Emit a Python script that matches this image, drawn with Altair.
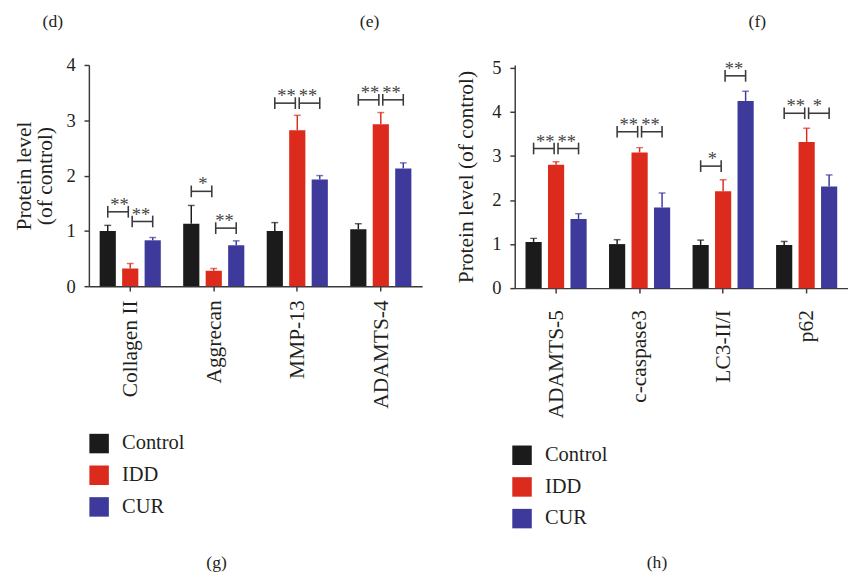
import altair as alt
import pandas as pd

FONT = "Liberation Serif"
INK = "#231f20"
LINE = "#3a3a3a"

groups = ["Control", "IDD", "CUR"]
group_colors = ["#1b1b1b", "#dc2b1c", "#3d3a9c"]

# ---- panel (g) ----
left_categories = ["Collagen II", "Aggrecan", "MMP-13", "ADAMTS-4"]
left_control = [1.00, 1.13, 1.00, 1.03]
left_idd = [0.32, 0.28, 2.82, 2.93]
left_cur = [0.83, 0.74, 1.93, 2.13]
left_control_err = [0.10, 0.33, 0.15, 0.10]
left_idd_err = [0.09, 0.04, 0.27, 0.21]
left_cur_err = [0.05, 0.08, 0.07, 0.10]

left_sig_category = ["Collagen II", "Collagen II", "Aggrecan", "Aggrecan",
                     "MMP-13", "MMP-13", "ADAMTS-4", "ADAMTS-4"]
left_sig_from = ["Control", "CUR", "Control", "CUR", "Control", "CUR", "Control", "CUR"]
left_sig_level = [1.345, 1.17, 1.715, 1.05, 3.31, 3.31, 3.37, 3.37]
left_sig_text = ["**", "**", "*", "**", "**", "**", "**", "**"]

# ---- panel (h) ----
right_categories = ["ADAMTS-5", "c-caspase3", "LC3-II/I", "p62"]
right_control = [1.05, 1.00, 0.98, 0.98]
right_idd = [2.80, 3.08, 2.20, 3.32]
right_cur = [1.57, 1.83, 4.25, 2.31]
right_control_err = [0.08, 0.10, 0.11, 0.08]
right_idd_err = [0.07, 0.11, 0.26, 0.31]
right_cur_err = [0.12, 0.33, 0.22, 0.26]

right_sig_category = ["ADAMTS-5", "ADAMTS-5", "c-caspase3", "c-caspase3",
                      "LC3-II/I", "LC3-II/I", "p62", "p62"]
right_sig_from = ["Control", "CUR", "Control", "CUR", "Control", "CUR", "Control", "CUR"]
right_sig_level = [3.17, 3.17, 3.55, 3.55, 2.77, 4.82, 3.97, 3.97]
right_sig_text = ["**", "**", "**", "**", "*", "**", "**", "*"]


def panel(cats, means, errs, sig_cat, sig_from, sig_level, sig_text,
          ymax, ytop, height, ytitle, legend_x, legend_y, labels, label_pad,
          title_pad):
    rows = []
    for g, m, e in zip(groups, means, errs):
        for c, v, ev in zip(cats, m, e):
            rows.append({"category": c, "group": g, "value": v, "upper": v + ev})
    df = pd.DataFrame(rows)
    sig = pd.DataFrame({"category": sig_cat, "group": sig_from,
                        "level": sig_level, "stars": sig_text})

    x = alt.X("category:N", sort=cats,
              scale=alt.Scale(paddingInner=0.268, paddingOuter=0.129),
              axis=alt.Axis(title=None, labelAngle=-90, labelFontSize=22,
                            labelPadding=label_pad, tickSize=5, labelColor=INK,
                            domainColor=LINE, tickColor=LINE, domainWidth=1.5,
                            tickWidth=1.5, labelFont=FONT))
    xo = alt.XOffset("group:N", sort=groups,
                     scale=alt.Scale(paddingInner=0.28, paddingOuter=0))
    yscale = alt.Scale(domain=[0, ytop], nice=False)
    y = alt.Y("value:Q", scale=yscale,
              axis=alt.Axis(values=list(range(0, ymax + 1)), format="d", title=ytitle,
                            grid=False, labelFontSize=19, titleFontSize=22,
                            titleFontWeight="normal", titleFont=FONT,
                            labelFont=FONT, labelColor=INK, titleColor=INK,
                            tickSize=5, labelPadding=9, titlePadding=title_pad,
                            domainColor=LINE, tickColor=LINE, domainWidth=1.5,
                            tickWidth=1.5, titleLineHeight=21))
    color = alt.Color("group:N", scale=alt.Scale(domain=groups, range=group_colors),
                      legend=alt.Legend(orient="none", legendX=legend_x, legendY=legend_y,
                                        title=None, symbolType="square",
                                        symbolSize=400, symbolStrokeWidth=0,
                                        labelFontSize=21, labelFont=FONT,
                                        labelColor=INK, rowPadding=10.5,
                                        labelOffset=13, padding=0))
    color_nl = alt.Color("group:N", legend=None)

    bars = alt.Chart(df).mark_bar().encode(x=x, xOffset=xo, y=y, color=color)
    err = alt.Chart(df).mark_rule(strokeWidth=1.5).encode(
        x=x, xOffset=xo, y=alt.Y("value:Q", scale=yscale), y2="upper:Q", color=color_nl)
    cap = alt.Chart(df).mark_tick(size=7, thickness=1.5, orient="horizontal").encode(
        x=x, xOffset=xo, y=alt.Y("upper:Q", scale=yscale), color=color_nl)

    layers = [bars, err, cap]
    for side, sgn in (("Control", 1), ("CUR", -1)):
        base = alt.Chart(sig).transform_filter(alt.datum.group == side)
        hline = base.mark_rule(strokeWidth=1.6, color=LINE, x2Offset=-2 * sgn).encode(
            x=x, xOffset=xo, x2="category:N",
            y=alt.Y("level:Q", scale=yscale))
        outer = base.mark_rule(strokeWidth=1.6, color=LINE, yOffset=-6, y2Offset=6).encode(
            x=x, xOffset=xo, y=alt.Y("level:Q", scale=yscale), y2="level:Q")
        inner = base.mark_rule(strokeWidth=1.6, color=LINE, xOffset=-2 * sgn,
                               yOffset=-6, y2Offset=6).encode(
            x=x, y=alt.Y("level:Q", scale=yscale), y2="level:Q")
        stars = base.mark_text(font=FONT, fontSize=19, color="#444444",
                               baseline="alphabetic", dx=12 * sgn, dy=-1).encode(
            x=x, xOffset=xo, y=alt.Y("level:Q", scale=yscale), text="stars:N")
        layers += [hline, outer, inner, stars]

    one = pd.DataFrame({"k": [0]})
    for txt, px, py in labels:
        layers.append(alt.Chart(one).mark_text(text=txt, font=FONT, fontSize=18,
                                               color=INK, baseline="middle").encode(
            x=alt.value(px), y=alt.value(py)))

    return alt.layer(*layers).properties(width=342, height=height)


left = panel(left_categories,
             [left_control, left_idd, left_cur],
             [left_control_err, left_idd_err, left_cur_err],
             left_sig_category, left_sig_from, left_sig_level, left_sig_text,
             4, 4, 227, ["Protein level", "(of control)"], 0, 378,
             [("(d)", -37, -44), ("(e)", 288, -44), ("(g)", 131, 511)], 9, 10)

right = panel(right_categories,
              [right_control, right_idd, right_cur],
              [right_control_err, right_idd_err, right_cur_err],
              right_sig_category, right_sig_from, right_sig_level, right_sig_text,
              5, 5.066, 229, "Protein level (of control)", -3, 390,
              [("(f)", 249, -44), ("(h)", 146, 511)], 17, 15)

chart = alt.hconcat(left, right, spacing=33).resolve_scale(
    x="independent", y="independent", xOffset="independent", color="independent"
).properties(
    padding={"left": 5, "top": -2, "right": 0, "bottom": 0}
).configure_view(stroke=None)

chart.save("out.html", embed_options={"renderer": "svg", "actions": False})
